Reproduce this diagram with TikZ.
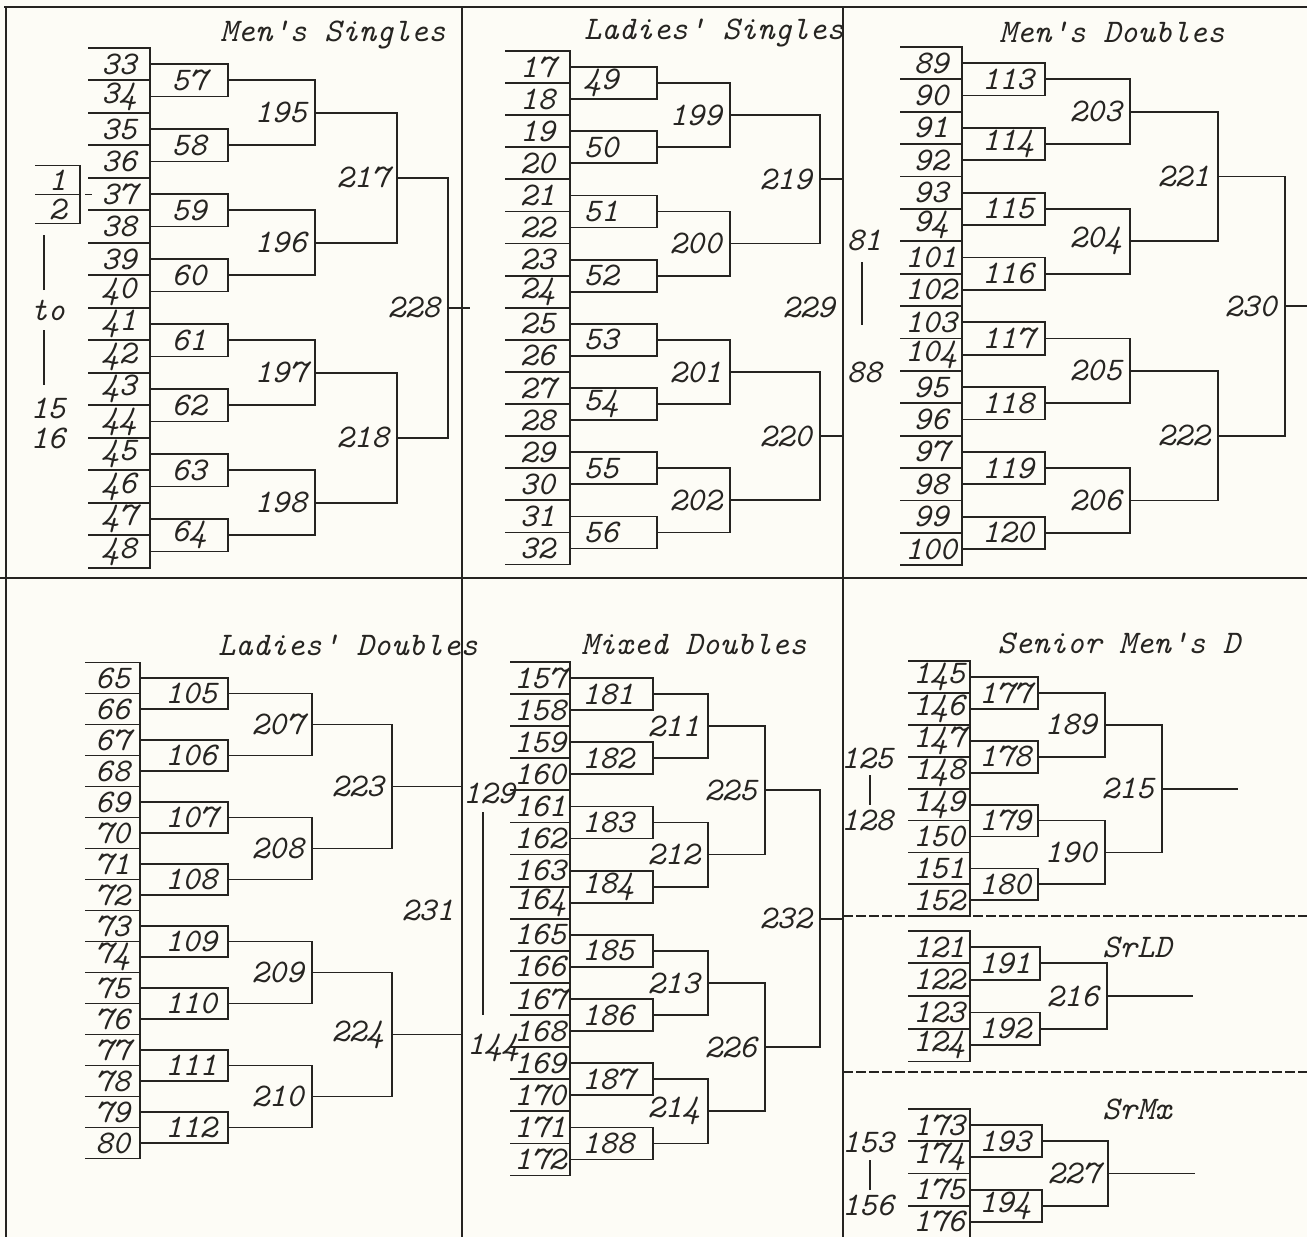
\documentclass[tikz,border=0pt]{standalone}
\usepackage{tikz}
\usetikzlibrary{calc}
\definecolor{ink}{RGB}{38,36,33}
\definecolor{paper}{RGB}{253,252,246}
\tikzset{
	num/.style={font=\fontsize{16.5}{18}\selectfont\ttfamily\itshape, text=ink, inner sep=1pt}, % typed numbers and titles
	rule/.style={draw=ink, line width=0.9pt}, % bracket lines
	frame/.style={draw=ink, line width=1.1pt}, % panel borders
	split/.style={draw=ink, line width=0.8pt, dash pattern=on 5pt off 1.5pt}, % dotted panel borders
}
% one first-round slot: number, left x, bar x, y, slot height
\newcommand{\entry}[5]{%
	\node[num] (n#1) at ({(#2+#3)/2},{#4}) {#1};
	\coordinate (o#1) at (#3,{#4});
	\draw[rule] (#2,{#4-#5/2}) -- (#3,{#4-#5/2}) -- (#3,{#4+#5/2}) -- (#2,{#4+#5/2});
}
% one match: [label options] number, upper input, lower input, bar x
\newcommand{\joinpair}[5][anchor=east,xshift=-3pt]{%
	\coordinate (bar) at (#5,0);
	\draw[rule] (o#3) -- (o#3 -| bar) -- (o#4 -| bar) -- (o#4);
	\coordinate (o#2) at ($(o#3 -| bar)!0.5!(o#4 -| bar)$);
	\node[num,#1] (n#2) at (o#2) {#2};
}

\begin{document}
\begin{tikzpicture}[x=0.5pt, y=-0.5pt]
	\useasboundingbox[fill=paper] (0,0) rectangle (1307,1237);

	% panel borders
	\draw[frame] (4,7) -- (1307,7);
	\draw[frame] (6,7) -- (6,1237);
	\draw[frame] (462,7) -- (462,1237);
	\draw[frame] (843,7) -- (843,1237);
	\draw[frame] (0,578) -- (1307,578);
	\draw[split] (843,916) -- (1307,916);
	\draw[split] (843,1072) -- (1307,1072);

	% titles
	\node[num] (ms) at (333,35) {Men's Singles};
	\node[num] (ls) at (714,33) {Ladies' Singles};
	\node[num] (md) at (1112,32) {Men's Doubles};
	\node[num] (ld) at (348,645) {Ladies' Doubles};
	\node[num] (mx) at (694,645) {Mixed Doubles};
	\node[num] (smd) at (1119,643) {Senior Men's D};
	\node[num] (srld) at (1137,947) {SrLD};
	\node[num] (srmx) at (1137,1109) {SrMx};

	% Men's Singles
	\entry{1}{35}{80}{180}{29}
	\entry{2}{35}{80}{209}{29}
	\draw[rule] ($(o1)!0.5!(o2)$) ++(5,0) -- ++(7,0);
	\node[num] (to) at (48,310) {to};
	\node[num] (n15) at (48,408) {15};
	\node[num] (n16) at (48,438) {16};
	\draw[rule] (to) ++(-4,-20) -- ++(0,-55);
	\draw[rule] (to) ++(-4,20) -- ++(0,55);
	\foreach \n [count=\i] in {33,...,48} {\entry{\n}{88}{150}{64+(\i-1)*32.5}{32.5}}
	\foreach \m/\a/\b in {57/33/34,58/35/36,59/37/38,60/39/40,61/41/42,62/43/44,63/45/46,64/47/48}
		{\joinpair[xshift=-19.5pt]{\m}{\a}{\b}{228}}
	\foreach \m/\a/\b in {195/57/58,196/59/60,197/61/62,198/63/64} {\joinpair{\m}{\a}{\b}{315}}
	\foreach \m/\a/\b in {217/195/196,218/197/198} {\joinpair{\m}{\a}{\b}{397}}
	\joinpair{228}{217}{218}{448}
	\draw[rule] (o228) -- ++(22,0);

	% Ladies' Singles
	\foreach \n [count=\i] in {17,...,32} {\entry{\n}{505}{570}{67+(\i-1)*32.1}{32.1}}
	\foreach \m/\a/\b in {49/17/18,50/19/20,51/21/22,52/23/24,53/25/26,54/27/28,55/29/30,56/31/32}
		{\joinpair[xshift=-28pt]{\m}{\a}{\b}{657}}
	\foreach \m/\a/\b in {199/49/50,200/51/52,201/53/54,202/55/56} {\joinpair{\m}{\a}{\b}{730}}
	\foreach \m/\a/\b in {219/199/200,220/201/202} {\joinpair{\m}{\a}{\b}{820}}
	\joinpair{229}{219}{220}{843}

	% Men's Doubles
	\node[num] (n81) at (864,240) {81};
	\node[num] (n88) at (864,372) {88};
	\draw[rule] ([xshift=-1pt,yshift=-11pt]n81.center) -- ([xshift=-1pt,yshift=23.5pt]n88.center);
	\foreach \n [count=\i] in {89,90,91,92,93,94,101,102,103,104,95,96,97,98,99,100}
		{\entry{\n}{900}{962}{63+(\i-1)*32.4}{32.4}}
	\foreach \m/\a/\b in {113/89/90,114/91/92,115/93/94,116/101/102,117/103/104,118/95/96,119/97/98,120/99/100}
		{\joinpair[xshift=-18.5pt]{\m}{\a}{\b}{1045}}
	\foreach \m/\a/\b in {203/113/114,204/115/116,205/117/118,206/119/120} {\joinpair{\m}{\a}{\b}{1130}}
	\foreach \m/\a/\b in {221/203/204,222/205/206} {\joinpair{\m}{\a}{\b}{1218}}
	\joinpair{230}{221}{222}{1285}
	\draw[rule] (o230) -- ++(22,0);

	% Ladies' Doubles
	\foreach \n [count=\i] in {65,...,80} {\entry{\n}{85}{140}{678+(\i-1)*31}{31}}
	\foreach \m/\a/\b in {105/65/66,106/67/68,107/69/70,108/71/72,109/73/74,110/75/76,111/77/78,112/79/80}
		{\joinpair[xshift=-18.5pt]{\m}{\a}{\b}{228}}
	\foreach \m/\a/\b in {207/105/106,208/107/108,209/109/110,210/111/112} {\joinpair{\m}{\a}{\b}{312}}
	\foreach \m/\a/\b in {223/207/208,224/209/210} {\joinpair{\m}{\a}{\b}{392}}
	\joinpair{231}{223}{224}{462}

	% Mixed Doubles
	\node[num] (n129) at (489,793) {129};
	\node[num] (n144) at (493,1048) {144};
	\draw[rule] ([xshift=-3pt,yshift=-9.5pt]n129.center) -- ([xshift=-5pt,yshift=16.5pt]n144.center);
	\foreach \n [count=\i] in {157,...,172} {\entry{\n}{510}{570}{678+(\i-1)*32.1}{32.1}}
	\foreach \m/\a/\b in {181/157/158,182/159/160,183/161/162,184/163/164,185/165/166,186/167/168,187/169/170,188/171/172}
		{\joinpair[xshift=-22.5pt]{\m}{\a}{\b}{653}}
	\foreach \m/\a/\b in {211/181/182,212/183/184,213/185/186,214/187/188} {\joinpair{\m}{\a}{\b}{708}}
	\foreach \m/\a/\b in {225/211/212,226/213/214} {\joinpair{\m}{\a}{\b}{765}}
	\joinpair{232}{225}{226}{820}
	\draw[rule] (o232) -- ++(23,0);

	% Senior Men's Doubles
	\node[num] (n125) at (867,758) {125};
	\node[num] (n128) at (867,820) {128};
	\draw[rule] ([xshift=1.5pt,yshift=-8.5pt]n125.center) -- ([xshift=1.5pt,yshift=7.5pt]n128.center);
	\foreach \n [count=\i] in {145,...,152} {\entry{\n}{908}{970}{677+(\i-1)*31.9}{31.9}}
	\foreach \m/\a/\b in {177/145/146,178/147/148,179/149/150,180/151/152}
		{\joinpair[xshift=-16.5pt]{\m}{\a}{\b}{1038}}
	\foreach \m/\a/\b in {189/177/178,190/179/180} {\joinpair{\m}{\a}{\b}{1105}}
	\joinpair{215}{189}{190}{1162}
	\draw[rule] (o215) -- ++(76,0);

	% SrLD
	\foreach \n [count=\i] in {121,...,124} {\entry{\n}{908}{970}{947+(\i-1)*32.7}{32.7}}
	\foreach \m/\a/\b in {191/121/122,192/123/124} {\joinpair[xshift=-17.5pt]{\m}{\a}{\b}{1040}}
	\joinpair{216}{191}{192}{1107}
	\draw[rule] (o216) -- ++(86,0);

	% SrMx
	\node[num] (n153) at (868,1142) {153};
	\node[num] (n156) at (868,1205) {156};
	\draw[rule] ([xshift=1pt,yshift=-9pt]n153.center) -- ([xshift=1pt,yshift=7.5pt]n156.center);
	\foreach \n [count=\i] in {173,...,176} {\entry{\n}{908}{970}{1125+(\i-1)*32.3}{32.3}}
	\foreach \m/\a/\b in {193/173/174,194/175/176} {\joinpair[xshift=-18.5pt]{\m}{\a}{\b}{1042}}
	\joinpair{227}{193}{194}{1108}
	\draw[rule] (o227) -- ++(87,0);
\end{tikzpicture}
\end{document}
